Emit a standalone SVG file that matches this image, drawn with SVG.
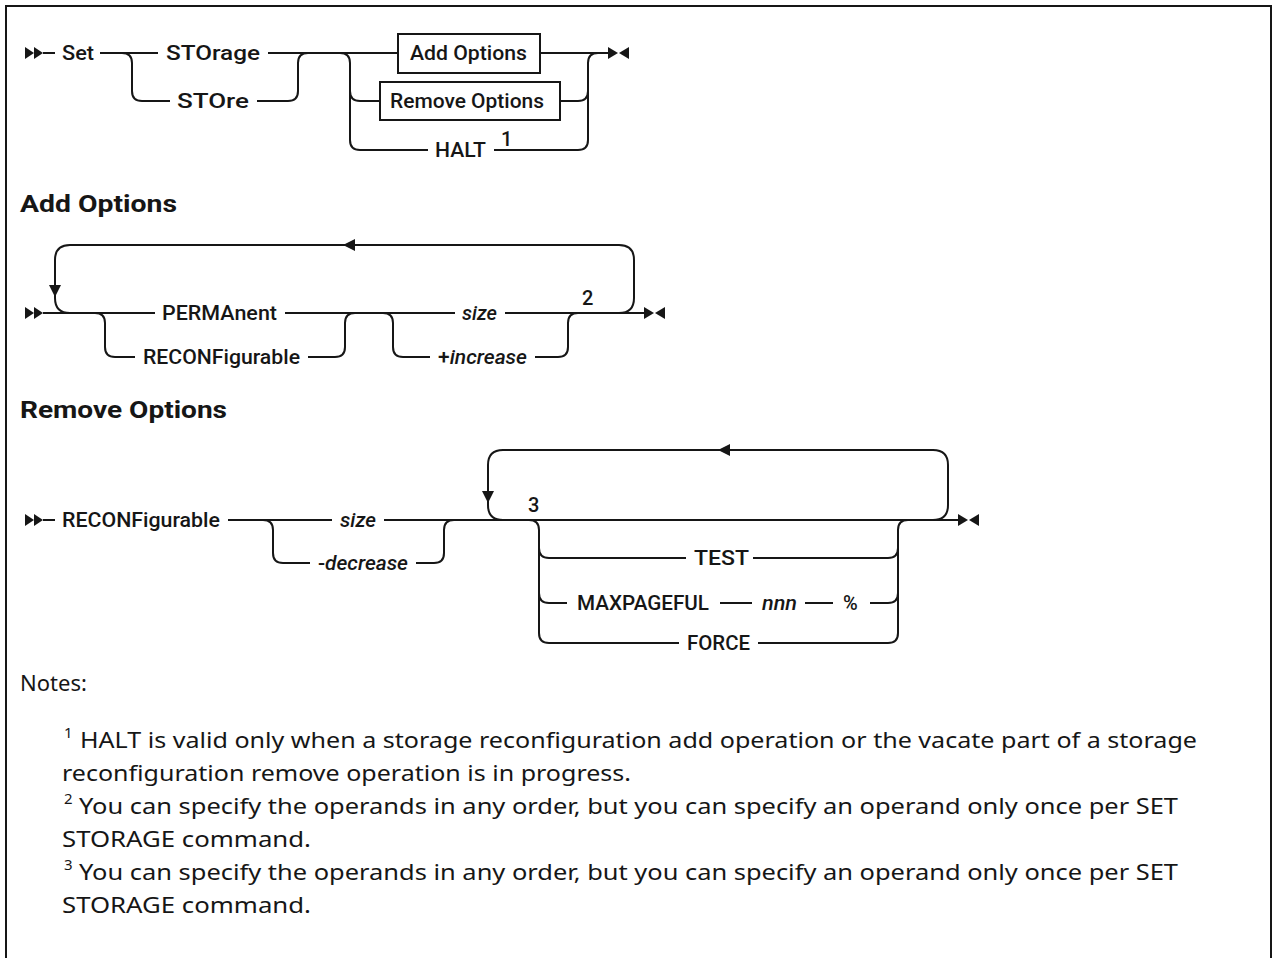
<svg xmlns="http://www.w3.org/2000/svg" width="1273" height="958" viewBox="0 0 1273 958">
<style>
.lbl{font-family:Roboto,"Liberation Sans",sans-serif;font-size:20px;font-weight:500;fill:#161616}
.it{font-style:italic}
.hd{font-family:Roboto,"Liberation Sans",sans-serif;font-size:23px;font-weight:700;fill:#161616}
.nt{font-family:"Noto Sans","Liberation Sans",sans-serif;font-size:22px;fill:#161616}
.sup{font-family:"Noto Sans","Liberation Sans",sans-serif;font-size:15px;fill:#161616}
.ln{fill:none;stroke:#161616;stroke-width:2}
.mk{fill:#161616}
.box{fill:#fff;stroke:#161616;stroke-width:2}
</style>
<rect width="1273" height="958" fill="#fff"/>
<path d="M6,958 V6 H1271 V958" fill="none" stroke="#161616" stroke-width="2"/>

<g id="connectors">
<!-- row 1 -->
<path class="ln" d="M43,53 H55 M100,53 H158 M122,53 Q132,53 132,63 V91 Q132,101 142,101 H170 M268,53 H398 M257,101 H288 Q298,101 298,91 V63 Q298,53 308,53"/>
<path class="ln" d="M340,53 Q350,53 350,63 V140 Q350,150 360,150 H428 M350,91 Q350,101 360,101 H380 M540,53 H608 M560,101 H578 Q588,101 588,91 M494,150 H578 Q588,150 588,140 V63 Q588,53 598,53"/>
<!-- row 2 -->
<path class="ln" d="M43,313 H155 M619,313 Q634,313 634,298 V260 Q634,245 619,245 H70 Q55,245 55,260 V298 Q55,313 70,313"/>
<path class="ln" d="M95,313 Q105,313 105,323 V347 Q105,357 115,357 H135 M285,313 H455 M308,357 H335 Q345,357 345,347 V323 Q345,313 355,313 M383,313 Q393,313 393,323 V347 Q393,357 403,357 H430 M505,313 H644 M535,357 H558 Q568,357 568,347 V323 Q568,313 578,313"/>
<!-- row 3 -->
<path class="ln" d="M43,520 H55 M228,520 H332 M263,520 Q273,520 273,530 V553 Q273,563 283,563 H310 M416,563 H434 Q444,563 444,553 V530 Q444,520 454,520 M384,520 H958"/>
<path class="ln" d="M933,520 Q948,520 948,505 V465 Q948,450 933,450 H503 Q488,450 488,465 V505 Q488,520 503,520"/>
<path class="ln" d="M529,520 Q539,520 539,530 V633 Q539,643 549,643 H679 M539,548 Q539,558 549,558 H686 M539,593 Q539,603 549,603 H567 M753,558 H888 Q898,558 898,548 M758,643 H888 Q898,643 898,633 V530 Q898,520 908,520 M720,603 H752 M805,603 H833 M870,603 H888 Q898,603 898,593"/>
<!-- markers -->
<polygon class="mk" points="25,47 34,53 25,59"/><polygon class="mk" points="34,47 43,53 34,59"/>
<polygon class="mk" points="608,47 618,53 608,59"/><polygon class="mk" points="629,47 619,53 629,59"/>
<polygon class="mk" points="25,307 34,313 25,319"/><polygon class="mk" points="34,307 43,313 34,319"/>
<polygon class="mk" points="644,307 654,313 644,319"/><polygon class="mk" points="665,307 655,313 665,319"/>
<polygon class="mk" points="343,245 355,239 355,251"/>
<polygon class="mk" points="55,297 49,285 61,285"/>
<polygon class="mk" points="25,514 34,520 25,526"/><polygon class="mk" points="34,514 43,520 34,526"/>
<polygon class="mk" points="958,514 968,520 958,526"/><polygon class="mk" points="979,514 969,520 979,526"/>
<polygon class="mk" points="718,450 730,444 730,456"/>
<polygon class="mk" points="488,503 482,491 494,491"/>
</g>

<g id="n-set"><text class="lbl" x="62" y="60" textLength="32" lengthAdjust="spacingAndGlyphs">Set</text></g>
<g id="n-storage"><text class="lbl" x="166" y="60" textLength="94" lengthAdjust="spacingAndGlyphs">STOrage</text></g>
<g id="n-store"><text class="lbl" x="177" y="108" textLength="72" lengthAdjust="spacingAndGlyphs">STOre</text></g>
<g id="n-addopts"><rect class="box" x="398" y="34" width="142" height="39"/><text class="lbl" x="410" y="60" textLength="117" lengthAdjust="spacingAndGlyphs">Add Options</text></g>
<g id="n-remopts"><rect class="box" x="380" y="82" width="180" height="38"/><text class="lbl" x="390" y="108" textLength="154" lengthAdjust="spacingAndGlyphs">Remove Options</text></g>
<g id="n-halt"><text class="lbl" x="435" y="157" textLength="51" lengthAdjust="spacingAndGlyphs">HALT</text><text class="lbl" x="501" y="146">1</text></g>

<g id="h-add"><text class="hd" x="20" y="212" textLength="157" lengthAdjust="spacingAndGlyphs">Add Options</text></g>
<g id="n-perm"><text class="lbl" x="162" y="320" textLength="115" lengthAdjust="spacingAndGlyphs">PERMAnent</text></g>
<g id="n-reconf1"><text class="lbl" x="143" y="364" textLength="157" lengthAdjust="spacingAndGlyphs">RECONFigurable</text></g>
<g id="n-size1"><text class="lbl it" x="462" y="320" textLength="35" lengthAdjust="spacingAndGlyphs">size</text></g>
<g id="n-incr"><text class="lbl" x="438" y="364" textLength="89" lengthAdjust="spacingAndGlyphs">+<tspan class="it">increase</tspan></text></g>
<g id="n-note2"><text class="lbl" x="582" y="305">2</text></g>

<g id="h-rem"><text class="hd" x="20" y="418" textLength="207" lengthAdjust="spacingAndGlyphs">Remove Options</text></g>
<g id="n-reconf2"><text class="lbl" x="62" y="527" textLength="158" lengthAdjust="spacingAndGlyphs">RECONFigurable</text></g>
<g id="n-size2"><text class="lbl it" x="340" y="527" textLength="36" lengthAdjust="spacingAndGlyphs">size</text></g>
<g id="n-decr"><text class="lbl" x="318" y="570" textLength="90" lengthAdjust="spacingAndGlyphs">-<tspan class="it">decrease</tspan></text></g>
<g id="n-note3"><text class="lbl" x="528" y="512">3</text></g>
<g id="n-test"><text class="lbl" x="694" y="565" textLength="55" lengthAdjust="spacingAndGlyphs">TEST</text></g>
<g id="n-maxp"><text class="lbl" x="577" y="610" textLength="132" lengthAdjust="spacingAndGlyphs">MAXPAGEFUL</text></g>
<g id="n-nnn"><text class="lbl it" x="762" y="610" textLength="35" lengthAdjust="spacingAndGlyphs">nnn</text></g>
<g id="n-pct"><text class="lbl" x="843" y="610">%</text></g>
<g id="n-force"><text class="lbl" x="687" y="650" textLength="63" lengthAdjust="spacingAndGlyphs">FORCE</text></g>

<g id="notes">
<text class="nt" x="20" y="691">Notes:</text>
<text class="sup" x="64" y="738">1</text>
<text class="nt" x="80" y="748" textLength="1117" lengthAdjust="spacingAndGlyphs">HALT is valid only when a storage reconfiguration add operation or the vacate part of a storage</text>
<text class="nt" x="62" y="781" textLength="569" lengthAdjust="spacingAndGlyphs">reconfiguration remove operation is in progress.</text>
<text class="sup" x="64" y="804">2</text>
<text class="nt" x="79" y="814" textLength="1099" lengthAdjust="spacingAndGlyphs">You can specify the operands in any order, but you can specify an operand only once per SET</text>
<text class="nt" x="62" y="847" textLength="249" lengthAdjust="spacingAndGlyphs">STORAGE command.</text>
<text class="sup" x="64" y="870">3</text>
<text class="nt" x="79" y="880" textLength="1099" lengthAdjust="spacingAndGlyphs">You can specify the operands in any order, but you can specify an operand only once per SET</text>
<text class="nt" x="62" y="913" textLength="249" lengthAdjust="spacingAndGlyphs">STORAGE command.</text>
</g>
</svg>
